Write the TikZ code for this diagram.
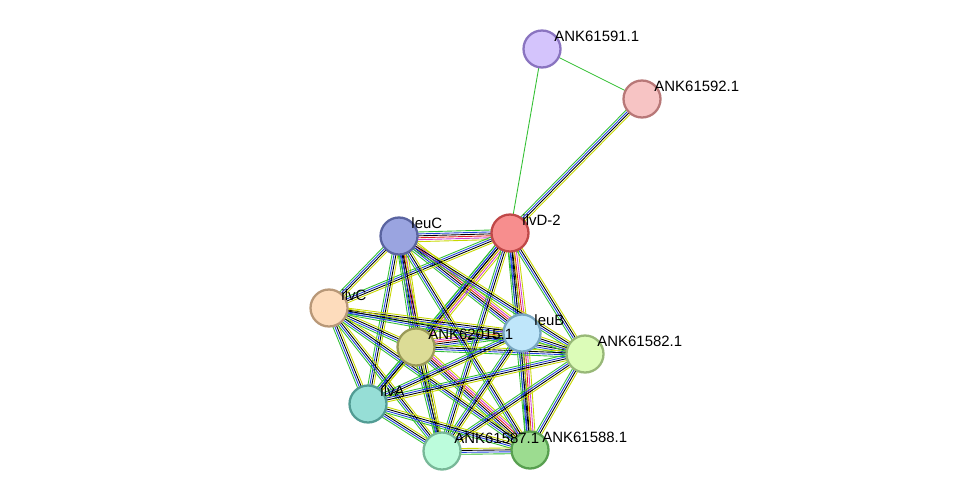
\documentclass[tikz,border=0pt]{standalone}
\usepackage{fontspec}
\setmainfont{Liberation Sans}
\usetikzlibrary{calc}

\tikzset{
  prot/.style={circle, draw, line width=1.3pt, minimum size=0.74cm, inner sep=0pt},
  lab/.style={font=\fontsize{8.5}{10}\selectfont, anchor=south west, inner sep=1pt},
  ln/.style={line width=0.5pt}
}
% bundle of parallel lines between two nodes
\newcommand{\bundle}[3]{%
  \foreach \c [count=\i] in {#3} {
    \pgfmathsetmacro{\off}{(\i-1)*1.1-2}
    \draw[ln, \c] ($(#1)!\off pt!90:(#2)$) -- ($(#2)!\off pt!-90:(#1)$);
  }%
}

\definecolor{sgreen}{HTML}{33C033}
\definecolor{syell}{HTML}{C8D800}
\definecolor{sblue}{HTML}{2040E0}
\definecolor{smag}{HTML}{D040D0}
\definecolor{sred}{HTML}{E02020}
\definecolor{f591}{HTML}{D4C4FC}\definecolor{d591}{HTML}{8A74C0}
\definecolor{f592}{HTML}{F7C4C4}\definecolor{d592}{HTML}{B87878}
\definecolor{fD}{HTML}{F78E8E}\definecolor{dD}{HTML}{C04848}
\definecolor{fC}{HTML}{9AA4E0}\definecolor{dC}{HTML}{5A64A0}
\definecolor{fvC}{HTML}{FDDCBC}\definecolor{dvC}{HTML}{B89878}
\definecolor{f015}{HTML}{DCDC96}\definecolor{d015}{HTML}{9A9A58}
\definecolor{fB}{HTML}{BFE6FA}\definecolor{dB}{HTML}{78A6C0}
\definecolor{f582}{HTML}{DCFCB8}\definecolor{d582}{HTML}{98B878}
\definecolor{fA}{HTML}{96DED6}\definecolor{dA}{HTML}{529C94}
\definecolor{f587}{HTML}{BCFCDC}\definecolor{d587}{HTML}{78B898}
\definecolor{f588}{HTML}{9CDC90}\definecolor{d588}{HTML}{58A050}

\begin{document}
\begin{tikzpicture}[x=0.02cm, y=-0.02cm]
\useasboundingbox (0,0) rectangle (976,497);

% positions
\coordinate (p591) at (542,49);
\coordinate (p592) at (642,99);
\coordinate (ilvD) at (510,233);
\coordinate (leuC) at (399,236);
\coordinate (ilvC) at (329,308);
\coordinate (p015) at (416,347);
\coordinate (leuB) at (522,333);
\coordinate (p582) at (585,354);
\coordinate (ilvA) at (368,404);
\coordinate (p587) at (442,451);
\coordinate (p588) at (530,450);

% edges
\draw[ln, sgreen] (p591) -- (p592);
\draw[ln, sgreen] (p591) -- (ilvD);
\bundle{p592}{ilvD}{sgreen,sblue,black,syell}

\foreach \a/\b in {ilvD/leuC, ilvD/leuB, leuC/leuB, leuB/p588, ilvD/p015, leuC/p015, p015/leuB, p015/p588}
  \bundle{\a}{\b}{sgreen,sblue,black,sred,smag,syell};

\foreach \a/\b in {ilvD/ilvC, ilvD/p582, ilvD/ilvA, ilvD/p587, ilvD/p588,
  leuC/ilvC, leuC/p582, leuC/ilvA, leuC/p587, leuC/p588,
  ilvC/p015, ilvC/leuB, ilvC/p582, ilvC/ilvA, ilvC/p587, ilvC/p588,
  p015/p582, p015/ilvA, p015/p587,
  leuB/p582, leuB/ilvA, leuB/p587,
  p582/ilvA, p582/p587, p582/p588,
  ilvA/p587, ilvA/p588, p587/p588}
  \bundle{\a}{\b}{sgreen,sblue,black,syell};

% proteins
\foreach \n/\p/\s in {n591/p591/591, n592/p592/592, nD/ilvD/D, nC/leuC/C, nvC/ilvC/vC,
  n015/p015/015, nB/leuB/B, n582/p582/582, nA/ilvA/A, n587/p587/587, n588/p588/588}
  \node[prot, fill=f\s, draw=d\s] (\n) at (\p) {};

% labels
\foreach \n/\t in {n591/ANK61591.1, n592/ANK61592.1, nD/ilvD-2, nC/leuC, nvC/ilvC,
  n015/ANK62015.1, nB/leuB, n582/ANK61582.1, nA/ilvA, n587/ANK61587.1, n588/ANK61588.1}
  \node[lab] at ([xshift=-2pt,yshift=-5pt]\n.north east) {\t};
\end{tikzpicture}
\end{document}
